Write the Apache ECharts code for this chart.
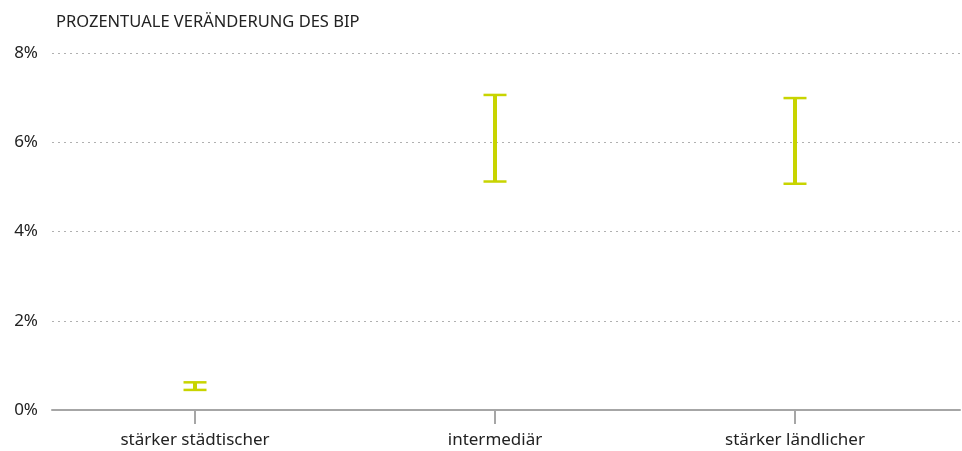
<!DOCTYPE html>
<html>
<head>
<meta charset="utf-8">
<script src="https://cdn.jsdelivr.net/npm/echarts@6/dist/echarts.min.js"></script>
<style>
html,body{margin:0;padding:0;background:#fff;}
#chart{width:962px;height:451px;}
</style>
</head>
<body>
<div id="chart"></div>
<script>
const categories = ['stärker städtischer', 'intermediär', 'stärker ländlicher'];
const lowValues = [0.45, 5.12, 5.07];
const highValues = [0.62, 7.06, 6.99];
const yTicks = [0, 2, 4, 6, 8];

const chart = echarts.init(document.getElementById('chart'));
const errData = categories.map((c, i) => [i, lowValues[i], highValues[i]]);

chart.setOption({
  animation: false,
  textStyle: { fontFamily: 'Noto Sans' },
  title: {
    text: 'PROZENTUALE VERÄNDERUNG DES BIP',
    left: 51, top: 9,
    textStyle: { fontSize: 16.5, fontWeight: 'normal', color: '#222', fontFamily: 'Noto Sans' }
  },
  grid: { left: 52, right: 2, top: 53, bottom: 41, containLabel: false },
  xAxis: {
    type: 'value',
    min: -0.4767, max: 2.55,
    splitLine: { show: false },
    axisLine: { show: true, onZero: false, lineStyle: { color: '#a6a6a6', width: 2 } },
    axisTick: { show: true, customValues: [0, 1, 2], length: 14, lineStyle: { color: '#a6a6a6', width: 2 } },
    axisLabel: {
      customValues: [0, 1, 2],
      formatter: v => categories[Math.round(v)] || '',
      color: '#222', fontSize: 17, margin: 22, fontFamily: 'Noto Sans'
    }
  },
  yAxis: {
    type: 'value',
    min: 0, max: 8, interval: 2,
    axisLine: { show: false },
    axisTick: { show: false },
    axisLabel: { formatter: v => v + '%', color: '#222', fontSize: 17, margin: 14, fontFamily: 'Noto Sans' },
    splitLine: { show: true, lineStyle: { color: '#b0b0b0', type: [2, 4], width: 1 } }
  },
  series: [{
    type: 'custom',
    data: errData,
    renderItem: function (params, api) {
      const x = api.value(0);
      const lo = api.coord([x, api.value(1)]);
      const hi = api.coord([x, api.value(2)]);
      const cap = 11.5;
      const color = '#c8d400';
      return {
        type: 'group',
        children: [
          { type: 'line', shape: { x1: lo[0], y1: lo[1], x2: hi[0], y2: hi[1] }, style: { stroke: color, lineWidth: 4 } },
          { type: 'line', shape: { x1: hi[0] - cap, y1: hi[1], x2: hi[0] + cap, y2: hi[1] }, style: { stroke: color, lineWidth: 2.5 } },
          { type: 'line', shape: { x1: lo[0] - cap, y1: lo[1], x2: lo[0] + cap, y2: lo[1] }, style: { stroke: color, lineWidth: 2.5 } }
        ]
      };
    }
  }]
});
</script>
</body>
</html>
